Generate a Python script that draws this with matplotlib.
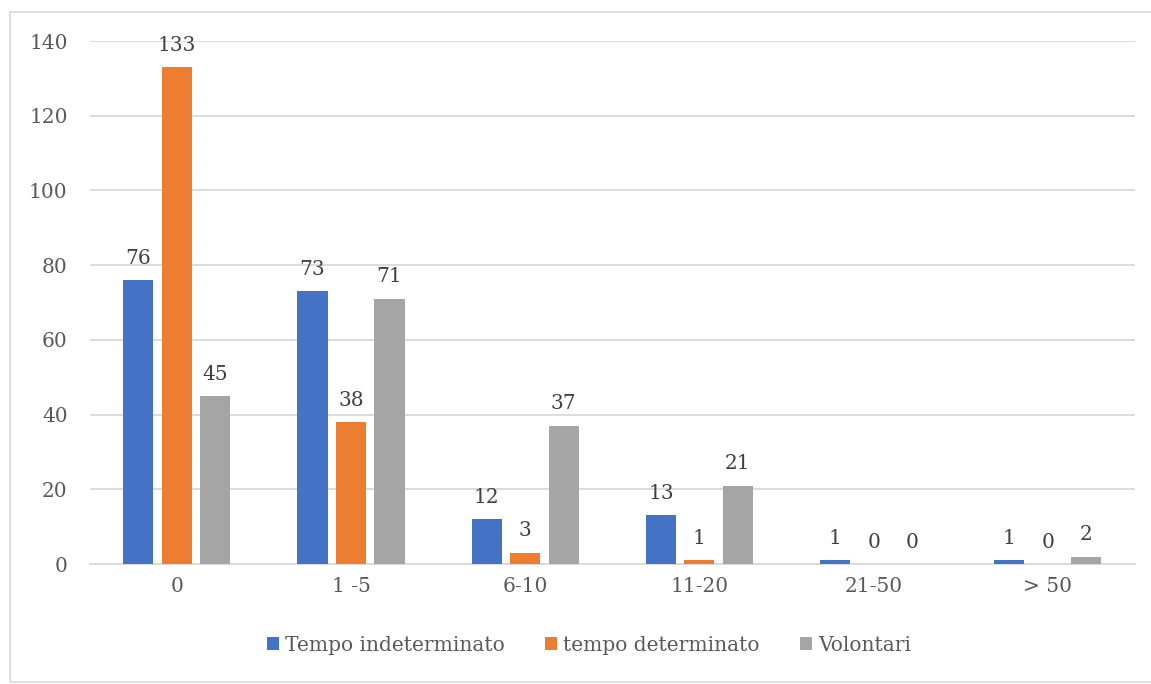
import numpy as np
import matplotlib
matplotlib.use('Agg')
import matplotlib.pyplot as plt
from matplotlib.patches import Rectangle

categories = ['0', '1 -5', '6-10', '11-20', '21-50', '> 50']
series_names = ['Tempo indeterminato', 'tempo determinato', 'Volontari']
tempo_indeterminato = [76, 73, 12, 13, 1, 1]
tempo_determinato = [133, 38, 3, 1, 0, 0]
volontari = [45, 71, 37, 21, 0, 2]
colors = ['#4472c4', '#ed7d31', '#a5a5a5']

plt.rcParams['font.family'] = ['DejaVu Serif']
text_color = '#595959'
fs = 14.5

fig = plt.figure(figsize=(11.51, 6.84), dpi=100)
ax = fig.add_axes([0.078, 0.1754, 0.908, 0.7646])

# outer chart frame
fig.patches.append(Rectangle((10/1151, 2/684), 1.0, 670/684, transform=fig.transFigure,
                             fill=False, edgecolor='#d9d9d9', linewidth=1.2))

x = np.arange(len(categories))
width = 0.173
step = 0.221
all_series = [tempo_indeterminato, tempo_determinato, volontari]
for i, (vals, name, col) in enumerate(zip(all_series, series_names, colors)):
    pos = x + (i - 1) * step
    bars = ax.bar(pos, vals, width=width, color=col, label=name, zorder=3)
    for p, v in zip(pos, vals):
        ax.text(p, v + 3.3, str(v), ha='center', va='bottom', fontsize=fs, color='#404040')

ax.set_xlim(-0.5, len(categories) - 0.5)
ax.set_ylim(0, 140)
ax.set_yticks(range(0, 141, 20))
ax.set_xticks(x)
ax.set_xticklabels(categories)
ax.grid(axis='y', color='#d9d9d9', linewidth=1.3, zorder=0)
for s in ['top', 'right', 'left']:
    ax.spines[s].set_visible(False)
ax.spines['bottom'].set_color('#d9d9d9')
ax.spines['bottom'].set_linewidth(1.3)
ax.tick_params(axis='both', length=0, labelsize=fs, colors=text_color)
ax.tick_params(axis='y', pad=16)
ax.tick_params(axis='x', pad=9)

leg = fig.legend(loc='center', bbox_to_anchor=(0.512, 0.057), ncol=3, frameon=False,
                 fontsize=fs, handlelength=0.6, handleheight=0.6, handletextpad=0.3,
                 columnspacing=2.0)
for t in leg.get_texts():
    t.set_color(text_color)

fig.savefig('out.png', dpi=100)
